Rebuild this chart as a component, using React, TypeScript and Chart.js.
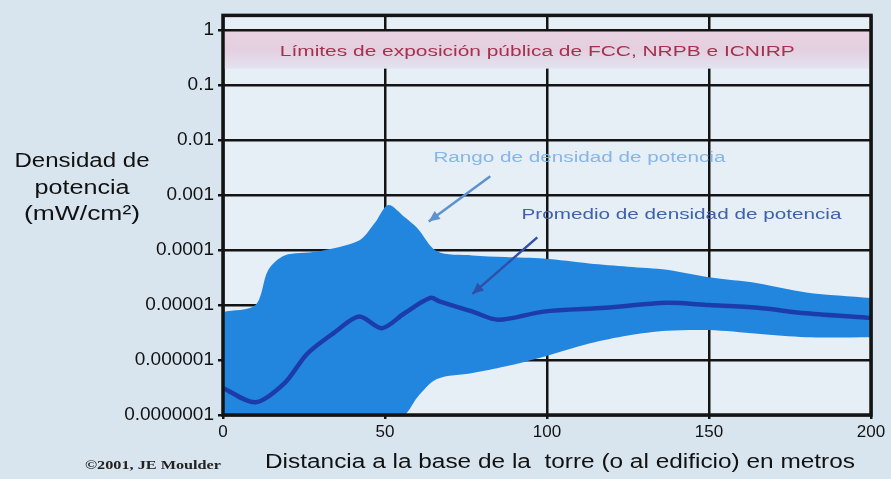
import React, { useEffect, useRef } from "react";
import { Chart, registerables } from "chart.js";
Chart.register(...registerables);

// ---- data ----
const xTickValues = [0, 50, 100, 150, 200];
const yTickValues = [1e-7, 1e-6, 1e-5, 1e-4, 1e-3, 1e-2, 1e-1, 1];
const yTickLabels = ["0.0000001", "0.000001", "0.00001", "0.0001", "0.001", "0.01", "0.1", "1"];

const bandX = [0, 10, 14, 19, 29, 42, 47, 51, 56, 60, 66, 77, 87, 99, 113, 125, 137, 150, 165, 180, 200];
const bandUpper = [7.5e-6, 1e-5, 4.4e-5, 8e-5, 9.4e-5, 1.5e-4, 3.2e-4, 6.6e-4, 4e-4, 2.5e-4, 9.5e-5, 8e-5, 7.5e-5, 7e-5, 5.7e-5, 5e-5, 4.4e-5, 3.2e-5, 2.5e-5, 1.7e-5, 1.35e-5];
const bandLower = [1e-7, 1e-7, 1e-7, 1e-7, 1e-7, 1e-7, 1e-7, 1e-7, 1e-7, 2.1e-7, 4.5e-7, 5.8e-7, 7.6e-7, 1.15e-6, 2e-6, 2.8e-6, 3.4e-6, 3.5e-6, 3e-6, 2.6e-6, 2.6e-6];

const avgX = [0, 10, 19, 26, 34.5, 42, 49, 56, 64, 67, 77, 85, 99, 118, 137, 150, 165, 180, 200];
const avgValues = [3.1e-7, 1.7e-7, 3.8e-7, 1.3e-6, 3.2e-6, 6.2e-6, 3.8e-6, 7.1e-6, 1.35e-5, 1.15e-5, 7.6e-6, 5.4e-6, 7.6e-6, 8.9e-6, 1.1e-5, 1e-5, 8.9e-6, 7.1e-6, 5.8e-6];

const limitBand = [0.2, 1];

const limitLabel = "Límites de exposición pública de FCC, NRPB e ICNIRP";
const rangeLabel = "Rango de densidad de potencia";
const avgLabel = "Promedio de densidad de potencia";
const xTitle = "Distancia a la base de la  torre (o al edificio) en metros";
const yTitleLines = ["Densidad de", "potencia", "(mW/cm²)"];
const credit = "©2001, JE Moulder";

const SANS = "'Liberation Sans', Arial, sans-serif";
const SERIF = "'Liberation Serif', 'Times New Roman', serif";

function drawFitted(ctx: CanvasRenderingContext2D, text: string, cx: number, cy: number, width: number, font: string, color: string) {
  ctx.save();
  ctx.font = font;
  const w = ctx.measureText(text).width;
  const sx = width / w;
  ctx.translate(cx, cy);
  ctx.scale(sx, 1);
  ctx.fillStyle = color;
  ctx.textAlign = "center";
  ctx.textBaseline = "middle";
  ctx.fillText(text, 0, 0);
  ctx.restore();
}

function arrow(ctx: CanvasRenderingContext2D, x1: number, y1: number, x2: number, y2: number, color: string) {
  ctx.save();
  ctx.strokeStyle = color;
  ctx.fillStyle = color;
  ctx.lineWidth = 2.5;
  ctx.beginPath();
  ctx.moveTo(x1, y1);
  ctx.lineTo(x2, y2);
  ctx.stroke();
  const a = Math.atan2(y2 - y1, x2 - x1);
  const L = 11, W = 5;
  ctx.beginPath();
  ctx.moveTo(x2, y2);
  ctx.lineTo(x2 - L * Math.cos(a) + W * Math.sin(a), y2 - L * Math.sin(a) - W * Math.cos(a));
  ctx.lineTo(x2 - L * Math.cos(a) - W * Math.sin(a), y2 - L * Math.sin(a) + W * Math.cos(a));
  ctx.closePath();
  ctx.fill();
  ctx.restore();
}

const decorPlugin = {
  id: "decor",
  beforeDraw(chart: any) {
    const { ctx, chartArea: a } = chart;
    ctx.save();
    ctx.fillStyle = "#d8e5ef";
    ctx.fillRect(0, 0, chart.width, chart.height);
    ctx.fillStyle = "#e6eef6";
    ctx.fillRect(a.left, a.top, a.right - a.left, a.bottom - a.top);
    ctx.restore();
  },
  afterDraw(chart: any) {
    const { ctx, chartArea: a, scales } = chart;
    const xs = scales.x, ys = scales.y;
    ctx.save();
    // limits band
    const yTop = ys.getPixelForValue(limitBand[1]);
    const yBot = ys.getPixelForValue(limitBand[0]);
    const g = ctx.createLinearGradient(0, yTop, 0, yBot);
    g.addColorStop(0, "#e9d3e2");
    g.addColorStop(0.5, "#e4cfe0");
    g.addColorStop(1, "#e3e3f0");
    ctx.fillStyle = g;
    ctx.fillRect(a.left, yTop, a.right - a.left, yBot - yTop);
    ctx.strokeStyle = "#141414";
    ctx.lineWidth = 2.5;
    ctx.beginPath();
    ctx.moveTo(a.left, yTop);
    ctx.lineTo(a.right, yTop);
    ctx.stroke();
    // frame
    ctx.lineWidth = 3.5;
    ctx.strokeRect(a.left, a.top, a.right - a.left, a.bottom - a.top);

    drawFitted(ctx, limitLabel, xs.getPixelForValue(97), ys.getPixelForValue(0.4), 515, `14px ${SANS}`, "#a8304c");
    drawFitted(ctx, rangeLabel, xs.getPixelForValue(110), ys.getPixelForValue(4.7e-3), 292, `14px ${SANS}`, "#86b6e6");
    drawFitted(ctx, avgLabel, xs.getPixelForValue(141.5), ys.getPixelForValue(4.4e-4), 320, `14px ${SANS}`, "#3f62aa");
    arrow(ctx, xs.getPixelForValue(82.5), ys.getPixelForValue(2.2e-3), xs.getPixelForValue(63.5), ys.getPixelForValue(3.3e-4), "#5d92d0");
    arrow(ctx, xs.getPixelForValue(97), ys.getPixelForValue(1.7e-4), xs.getPixelForValue(77), ys.getPixelForValue(1.6e-5), "#2f4fa8");

    // axis titles
    drawFitted(ctx, xTitle, 560, 462, 590, `20px ${SANS}`, "#111");
    const yLinesY = [161, 188, 214];
    const yLinesW = [135, 95, 116];
    yTitleLines.forEach((t, i) => drawFitted(ctx, t, 82, yLinesY[i], yLinesW[i], `20px ${SANS}`, "#111"));
    drawFitted(ctx, credit, 153, 466, 136, `bold 12px ${SERIF}`, "#222");
    ctx.restore();
  },
};

export default function App() {
  const ref = useRef<HTMLCanvasElement | null>(null);
  useEffect(() => {
    document.body.style.margin = "0";
    const canvas = ref.current!;
    const chart = new Chart(canvas, {
      type: "line",
      data: {
        datasets: [
          {
            label: "lower",
            data: bandX.map((x, i) => ({ x, y: bandLower[i] })),
            borderWidth: 0,
            pointRadius: 0,
            fill: false,
            tension: 0.3,
            order: 2,
            borderColor: "rgba(0,0,0,0)",
          },
          {
            label: "range",
            data: bandX.map((x, i) => ({ x, y: bandUpper[i] })),
            borderWidth: 0,
            pointRadius: 0,
            fill: "-1",
            tension: 0.3,
            order: 1,
            borderColor: "rgba(0,0,0,0)",
            backgroundColor: "rgb(34,134,222)",
          },
          {
            label: "avg",
            data: avgX.map((x, i) => ({ x, y: avgValues[i] })),
            borderWidth: 4.5,
            pointRadius: 0,
            fill: false,
            tension: 0.3,
            order: 0,
            borderColor: "rgba(28,52,165,0.9)",
          },
        ],
      },
      options: {
        responsive: false,
        animation: false,
        devicePixelRatio: 1,
        layout: { padding: { left: 0, right: 20, top: 15, bottom: 0 } },
        plugins: { legend: { display: false }, tooltip: { enabled: false } },
        scales: {
          x: {
            type: "linear",
            min: 0,
            max: 200,
            z: 1,
            afterBuildTicks: (s: any) => {
              s.ticks = xTickValues.map((v) => ({ value: v }));
            },
            afterFit: (s: any) => {
              s.height = 64;
            },
            ticks: {
              font: { family: SANS, size: 17 },
              color: "#111",
              padding: 3,
              maxRotation: 0,
            },
            grid: { color: "#141414", lineWidth: 2.5, tickLength: 4 },
            border: { display: false },
          },
          y: {
            type: "logarithmic",
            min: 1e-7,
            max: 1.86,
            z: 1,
            afterBuildTicks: (s: any) => {
              s.ticks = yTickValues.map((v) => ({ value: v }));
            },
            afterFit: (s: any) => {
              s.width = 223;
            },
            ticks: {
              font: { family: SANS, size: 19 },
              color: "#111",
              padding: 4,
              callback: (v: any) => {
                const i = yTickValues.findIndex((t) => Math.abs(Math.log10(t) - Math.log10(Number(v))) < 1e-6);
                return i >= 0 ? yTickLabels[i] : "";
              },
            },
            grid: { color: "#141414", lineWidth: 2.5, tickLength: 5 },
            border: { display: false },
          },
        },
      },
      plugins: [decorPlugin],
    } as any);
    return () => chart.destroy();
  }, []);
  return <canvas ref={ref} width={891} height={479} style={{ display: "block" }} />;
}
